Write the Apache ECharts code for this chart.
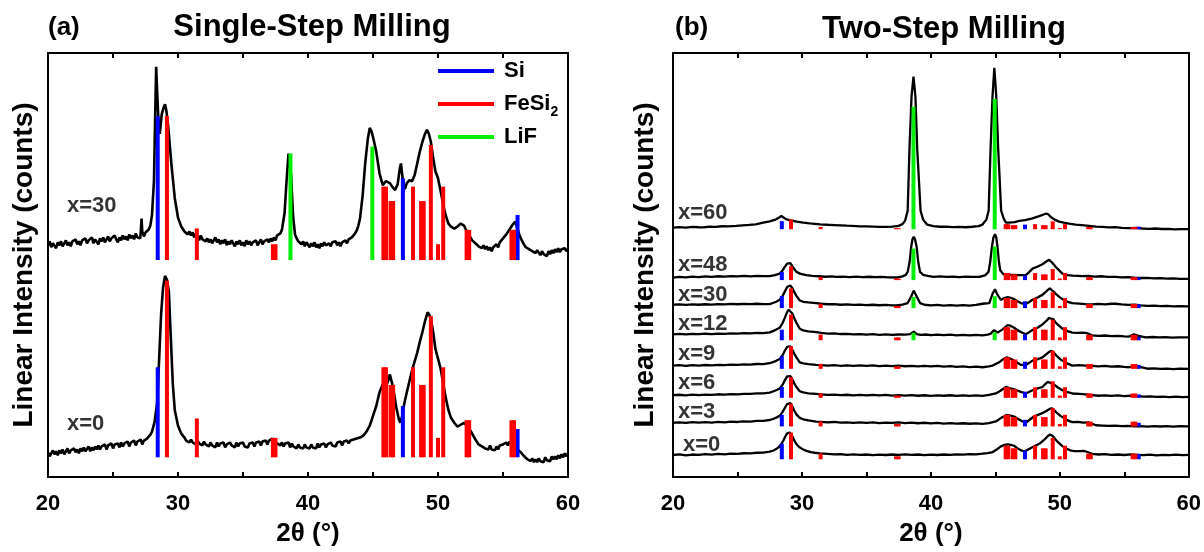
<!DOCTYPE html>
<html><head><meta charset="utf-8">
<script src="https://cdn.jsdelivr.net/npm/echarts@6/dist/echarts.min.js"></script>
<style>html,body{margin:0;padding:0;background:#fff}#c{width:1204px;height:552px}</style>
</head><body><div id="c"></div>
<script>
// ---------------- DATA ----------------
const xTicks = [20, 30, 40, 50, 60];
const phaseNames = ['Si', 'FeSi2', 'LiF'];
// reference stick positions (2θ) and relative intensities
const siPos = [28.44, 47.3, 56.12];
const siRel = [51, 29, 16];
const fesi2Pos = [29.15, 31.45, 37.3, 37.5, 45.8, 46.0, 46.35, 46.55, 48.08, 48.7, 48.9, 49.45, 50.0, 50.4, 52.2, 52.4, 55.65, 55.85];
const fesi2Rel = [100, 22, 11, 11, 51, 51, 41, 41, 51, 41, 41, 80, 11, 51, 21, 21, 21, 21];
const lifPos = [38.65, 44.95];
const lifRel = [94, 100];

// Panel (a): single-step milling
const aSamples = ['x=30', 'x=0'];
const aStickBase = [220, 20];
const aFeScale = [146, 179];
const aSiScale = [286, 179];
const aLiFScale = [115, 0];
const aX30Curve = [[20,235],[20.125,239],[20.25,233],[20.375,237],[20.5,236],[20.625,232],[20.75,238],[20.875,235],[21,239],[21.125,234],[21.25,237],[21.375,240],[21.5,235],[21.625,238],[21.75,234],[21.875,239],[22,237],[22.125,241],[22.25,236],[22.375,239],[22.5,235],[22.625,240],[22.75,238],[22.875,242],[23,237],[23.125,240],[23.25,238],[23.375,243],[23.5,237],[23.625,241],[23.75,239],[23.875,236],[24,242],[24.125,239],[24.25,243],[24.375,238],[24.5,241],[24.625,244],[24.75,239],[24.875,242],[25,240],[25.125,245],[25.25,241],[25.375,238],[25.5,243],[25.625,240],[25.75,245],[25.875,241],[26,244],[26.125,240],[26.25,246],[26.375,242],[26.5,245],[26.625,241],[26.75,247],[26.875,243],[27,245],[27.1,242],[27.2,262],[27.25,249],[27.375,244],[27.5,248],[27.625,246],[27.75,251],[27.875,255],[28,266],[28.15,300],[28.25,370],[28.32,416],[28.4,390],[28.5,360],[28.6,348],[28.75,368],[28.9,375],[29,378],[29.1,372],[29.25,355],[29.5,316],[29.75,283],[30,263],[30.25,254],[30.5,249],[30.625,251],[30.75,246],[30.875,249],[31,245],[31.125,248],[31.25,243],[31.375,247],[31.5,244],[31.625,240],[31.75,245],[31.875,241],[32,243],[32.125,239],[32.25,242],[32.375,238],[32.5,241],[32.625,237],[32.75,240],[32.875,243],[33,238],[33.125,241],[33.25,236],[33.375,240],[33.5,237],[33.625,241],[33.75,235],[33.875,239],[34,236],[34.125,240],[34.25,237],[34.375,234],[34.5,239],[34.625,236],[34.75,240],[34.875,235],[35,238],[35.125,234],[35.25,240],[35.375,236],[35.5,239],[35.625,235],[35.75,238],[35.875,236],[36,240],[36.125,235],[36.25,238],[36.375,241],[36.5,236],[36.625,239],[36.75,237],[36.875,241],[37,238],[37.125,242],[37.25,239],[37.375,243],[37.5,240],[37.625,245],[37.75,243],[37.875,247],[38,251],[38.2,268],[38.35,300],[38.5,328],[38.6,330],[38.7,306],[38.85,265],[39,246],[39.125,242],[39.25,239],[39.375,241],[39.5,236],[39.625,239],[39.75,234],[39.875,238],[40,236],[40.125,233],[40.25,237],[40.375,234],[40.5,238],[40.625,233],[40.75,236],[40.875,232],[41,237],[41.125,234],[41.25,238],[41.375,235],[41.5,233],[41.625,237],[41.75,234],[41.875,238],[42,236],[42.125,239],[42.25,235],[42.375,238],[42.5,234],[42.625,238],[42.75,236],[42.875,240],[43,237],[43.125,241],[43.25,239],[43.375,243],[43.5,245],[43.625,247],[43.75,250],[43.875,255],[44,262],[44.2,285],[44.4,318],[44.6,343],[44.75,354],[44.9,350],[45.05,342],[45.25,330],[45.5,308],[45.75,296],[45.9,294],[46,300],[46.15,302],[46.3,298],[46.5,294],[46.7,291],[46.9,297],[47.05,312],[47.15,318],[47.3,300],[47.45,292],[47.6,298],[47.8,301],[48,300],[48.2,306],[48.4,318],[48.6,330],[48.8,340],[49,348],[49.15,352],[49.3,348],[49.45,340],[49.6,326],[49.8,310],[50,303],[50.2,290],[50.4,276],[50.6,265],[50.8,257],[51,254],[51.25,252],[51.5,254],[51.75,257],[52,255],[52.25,248],[52.5,243],[52.625,240],[52.75,241],[52.875,237],[53,238],[53.125,234],[53.25,236],[53.375,232],[53.5,235],[53.625,231],[53.75,234],[53.875,230],[54,233],[54.125,229],[54.25,233],[54.375,231],[54.5,236],[54.625,233],[54.75,238],[54.875,236],[55,242],[55.25,246],[55.5,251],[55.75,256],[55.95,259],[56.1,252],[56.3,244],[56.45,240],[56.6,236],[56.75,233],[56.875,235],[57,231],[57.125,233],[57.25,229],[57.375,231],[57.5,227],[57.625,230],[57.75,228],[57.875,225],[58,229],[58.125,226],[58.25,228],[58.375,224],[58.5,229],[58.625,226],[58.75,230],[58.875,227],[59,231],[59.125,228],[59.25,232],[59.375,228],[59.5,231],[59.625,229],[59.75,232],[59.875,229],[60,231]];
const aX0Curve = [[20,25],[20.125,21],[20.25,24],[20.375,27],[20.5,23],[20.625,26],[20.75,22],[20.875,27],[21,24],[21.125,28],[21.25,23],[21.375,26],[21.5,29],[21.625,24],[21.75,27],[21.875,25],[22,29],[22.125,25],[22.25,28],[22.375,24],[22.5,29],[22.625,26],[22.75,30],[22.875,26],[23,28],[23.125,31],[23.25,26],[23.375,30],[23.5,27],[23.625,31],[23.75,28],[23.875,32],[24,28],[24.125,31],[24.25,29],[24.375,33],[24.5,28],[24.625,32],[24.75,30],[24.875,34],[25,29],[25.125,33],[25.25,31],[25.375,34],[25.5,30],[25.625,35],[25.75,31],[25.875,34],[26,32],[26.125,36],[26.25,31],[26.375,35],[26.5,33],[26.625,37],[26.75,32],[26.875,36],[27,34],[27.125,38],[27.25,33],[27.375,37],[27.5,36],[27.625,39],[27.75,40],[27.875,43],[28,46],[28.2,56],[28.4,76],[28.55,120],[28.7,165],[28.85,192],[29,204],[29.15,200],[29.3,188],[29.45,140],[29.6,95],[29.75,68],[30,52],[30.25,44],[30.5,40],[30.625,37],[30.75,39],[30.875,35],[31,38],[31.125,35],[31.25,37],[31.375,33],[31.5,37],[31.625,34],[31.75,36],[31.875,32],[32,36],[32.125,33],[32.25,35],[32.375,31],[32.5,35],[32.625,32],[32.75,34],[32.875,30],[33,35],[33.125,31],[33.25,34],[33.375,32],[33.5,35],[33.625,30],[33.75,33],[33.875,31],[34,35],[34.125,32],[34.25,34],[34.375,30],[34.5,35],[34.625,31],[34.75,34],[34.875,32],[35,35],[35.125,31],[35.25,33],[35.375,30],[35.5,34],[35.625,32],[35.75,35],[35.875,31],[36,35],[36.125,33],[36.25,36],[36.375,32],[36.5,36],[36.625,34],[36.75,37],[36.875,33],[37,37],[37.125,35],[37.25,39],[37.375,36],[37.5,38],[37.625,34],[37.75,36],[37.875,32],[38,35],[38.125,31],[38.25,34],[38.375,32],[38.5,35],[38.625,30],[38.75,34],[38.875,31],[39,33],[39.125,29],[39.25,33],[39.375,30],[39.5,32],[39.625,29],[39.75,33],[39.875,30],[40,32],[40.125,29],[40.25,33],[40.375,30],[40.5,32],[40.625,29],[40.75,34],[40.875,30],[41,33],[41.125,31],[41.25,34],[41.375,30],[41.5,33],[41.625,31],[41.75,35],[41.875,32],[42,34],[42.125,31],[42.25,35],[42.375,33],[42.5,36],[42.625,32],[42.75,36],[42.875,34],[43,37],[43.125,34],[43.25,37],[43.375,35],[43.5,38],[43.625,36],[43.75,39],[43.875,37],[44,40],[44.25,42],[44.5,46],[44.75,52],[45,62],[45.25,72],[45.5,86],[45.75,94],[46,92],[46.15,97],[46.3,104],[46.45,96],[46.6,86],[46.8,70],[47,58],[47.1,55],[47.25,62],[47.4,74],[47.6,86],[47.8,97],[48,108],[48.2,117],[48.4,126],[48.6,137],[48.8,147],[49,158],[49.2,167],[49.35,164],[49.5,157],[49.65,145],[49.8,130],[50,120],[50.2,110],[50.4,95],[50.6,80],[50.8,68],[51,60],[51.25,55],[51.5,51],[51.75,53],[52,55],[52.25,52],[52.5,47],[52.75,41],[52.875,38],[53,37],[53.125,33],[53.25,35],[53.375,31],[53.5,33],[53.625,29],[53.75,31],[53.875,28],[54,32],[54.125,28],[54.25,30],[54.375,27],[54.5,31],[54.625,28],[54.75,32],[54.875,30],[55,33],[55.125,31],[55.25,35],[55.375,32],[55.5,36],[55.625,33],[55.75,35],[55.875,31],[56,33],[56.125,28],[56.25,29],[56.375,25],[56.5,25],[56.625,21],[56.75,22],[56.875,18],[57,20],[57.125,16],[57.25,19],[57.375,15],[57.5,18],[57.625,15],[57.75,19],[57.875,16],[58,18],[58.125,15],[58.25,20],[58.375,17],[58.5,19],[58.625,16],[58.75,21],[58.875,18],[59,21],[59.125,18],[59.25,22],[59.375,19],[59.5,23],[59.625,20],[59.75,24],[59.875,21],[60,24]];
const aCurves = [aX30Curve, aX0Curve];

// Panel (b): two-step milling (curves = height above each pattern's own baseline)
const bSamples = ['x=60', 'x=48', 'x=30', 'x=12', 'x=9', 'x=6', 'x=3', 'x=0'];
const bOffsets = [253, 203, 174.7, 144.7, 113, 83, 55, 22.3];
const bStickBase = [251.3, 199.7, 171.3, 138.7, 109.7, 80.3, 51.3, 18];
const bFeScale = [10, 14, 20, 26, 23, 21, 23, 27];
const bSiScale = [16, 16, 24, 21, 25, 21.5, 23, 31];
const bLiFScale = [132, 34, 12, 8, 0, 0, 0, 0];
const bX60 = [[20,0],[20.5,0.5],[21,0],[21.5,0.6],[22,0.3],[22.3,0.2],[22.8,0.8],[23.3,0.6],[23.8,1.3],[24.3,1.2],[24.9,1.7],[25.4,2.2],[25.9,2.7],[26.4,3.3],[27,5],[27.5,6.3],[28,8.3],[28.2,9.8],[28.4,11.7],[28.6,10],[28.8,8.3],[29.2,7],[29.6,6],[30.1,5],[30.6,4.2],[31,3.8],[31.4,3.3],[32,2.8],[32.5,2.5],[33,2.2],[33.5,1.9],[33.9,1.7],[34.5,1.2],[35,1.1],[35.5,0.9],[36,0.6],[36.5,0.7],[37,0.9],[37.5,1.7],[37.8,3.5],[38,7],[38.2,17],[38.34,80],[38.5,133],[38.65,153],[38.8,133],[38.94,80],[39.2,17],[39.4,8],[39.7,3],[40.2,1.5],[40.7,0.8],[41.2,1],[41.7,0.4],[42.2,0.7],[42.7,0.3],[43.2,0.8],[43.7,1.5],[44,3],[44.3,8],[44.48,17],[44.63,80],[44.78,133],[44.92,162],[45.07,133],[45.22,80],[45.45,17],[45.65,9],[45.82,5],[46.05,5],[46.5,5.5],[46.85,6.7],[47.3,7.5],[47.88,9.3],[48.4,11.5],[48.9,14],[49.1,13.5],[49.3,10.7],[49.6,8],[49.94,6],[50.3,5],[50.72,4],[51.2,3],[51.7,2.4],[52.26,1.7],[52.8,1],[53.3,0.7],[53.8,0.2],[54.3,0.4],[54.8,-0.3],[55.36,-0.7],[55.9,-0.4],[56.4,-1],[56.9,-1.3],[57.4,-1],[57.9,-1.5],[58.4,-1.3],[58.9,-1.8],[59.4,-1.6],[60,-1.7]];
const bX48 = [[20,-0.7],[20.5,0],[21,-0.5],[21.5,0.2],[22,-0.3],[22.5,0.4],[23,0],[23.5,0.6],[24,0.2],[24.5,0.7],[25,0.4],[25.5,0.9],[26,0.5],[26.5,1],[27,0.8],[27.5,0.7],[27.9,1.8],[28.28,3.3],[28.5,6.5],[28.67,10],[28.85,13.5],[28.97,15],[29.1,14],[29.26,10.7],[29.4,8],[29.57,5],[29.9,3],[30.34,1.7],[30.8,1],[31.3,0.6],[31.8,0.1],[32.3,0.4],[32.66,0],[33.2,0.3],[33.7,-0.2],[34.2,0.2],[34.7,-0.3],[35.2,0.1],[35.7,-0.4],[36.2,0],[36.7,-0.5],[37.3,-0.7],[37.8,0.5],[38.05,2],[38.2,5],[38.35,15],[38.47,30],[38.57,38],[38.67,40.7],[38.77,38],[38.9,30],[39.02,15],[39.16,5],[39.4,2],[39.75,1],[40.2,0],[40.7,0.4],[41.2,-0.1],[41.7,0.3],[42.2,-0.2],[42.7,0.2],[43.2,-0.1],[43.75,0],[44.2,1.5],[44.47,5],[44.6,15],[44.73,30],[44.85,40],[44.97,43.3],[45.07,40],[45.17,30],[45.28,15],[45.38,6.7],[45.6,3],[45.82,1.7],[46.3,2],[46.85,1.7],[47.36,1.7],[47.6,4.5],[47.88,8.3],[48.3,10.5],[48.65,12.7],[48.95,15.5],[49.17,17.3],[49.4,14.5],[49.69,10],[49.95,6.5],[50.2,3.3],[50.6,1.8],[51,1.3],[51.4,1],[51.75,0.7],[52.2,1],[52.7,0.3],[53.2,0.6],[53.7,-0.1],[54.3,0],[54.8,-0.6],[55.3,-0.3],[55.8,-0.9],[56.3,-1.2],[56.8,-1],[57.3,-1.6],[57.8,-1.3],[58.3,-1.8],[58.8,-1.5],[59.3,-2],[60,-2]];
const bX30 = [[20,0],[20.5,0.4],[21,-0.2],[21.5,0.4],[22,0],[22.5,0.5],[23,0.1],[23.5,0.6],[24,0.3],[24.5,0.8],[25,0.5],[25.5,0.9],[26,0.6],[26.5,1],[27,0.7],[27.5,0.7],[27.8,2],[28,3],[28.28,5],[28.5,9],[28.67,13.3],[28.85,18],[28.97,20],[29.1,19.5],[29.26,16.7],[29.4,13],[29.57,9],[29.83,4.3],[30.1,3],[30.5,2.3],[31.1,1.7],[31.5,1],[32,0.5],[32.5,0.6],[33,0],[33.5,0.3],[34,-0.2],[34.5,0.2],[35,-0.4],[35.5,0],[36,-0.5],[36.5,-0.1],[37,-0.6],[37.3,-0.7],[37.8,0.2],[38.2,1.7],[38.47,8.3],[38.67,14.3],[38.9,8.3],[39.16,1.7],[39.5,0],[40,-0.7],[40.5,-0.2],[41,-0.8],[41.5,-0.3],[42,-0.9],[42.5,-0.4],[43,-0.8],[43.5,-0.2],[44,1],[44.53,1.7],[44.78,11],[44.97,15.7],[45.17,10],[45.43,5],[45.7,6.8],[45.95,7.7],[46.2,7],[46.46,5.7],[46.75,3.3],[46.98,1.7],[47.36,0.7],[47.6,2.5],[47.88,5],[48.3,7.5],[48.65,10],[48.95,13.5],[49.22,16.7],[49.45,14],[49.69,11],[49.95,8],[50.2,5.7],[50.6,3],[50.97,1.7],[51.5,1.2],[52,0.7],[52.5,0.3],[53,0.8],[53.5,0.4],[54,1],[54.3,1],[54.8,0.3],[55.3,-0.2],[55.8,0.2],[56.3,-0.6],[56.8,-1.2],[57.3,-0.9],[57.8,-1.5],[58.3,-1.2],[58.8,-1.7],[59.3,-1.4],[60,-1.7]];
const bX12 = [[20,0],[20.5,0.5],[21,-0.1],[21.5,0.5],[22,0.1],[22.5,0.6],[23,0.2],[23.5,0.8],[24,0.4],[24.5,1],[25,0.7],[25.5,1.2],[26,1],[26.5,1.5],[27,1.3],[27.5,2],[27.8,3.5],[28,4.8],[28.28,6.7],[28.5,11.5],[28.67,16.7],[28.85,22.5],[28.97,25],[29.1,24.2],[29.26,21],[29.4,16.5],[29.57,11.7],[29.83,5.7],[30.1,4],[30.5,3],[31.1,2.3],[31.5,1.5],[32,0.8],[32.5,0.9],[33,0.3],[33.5,0.5],[34,-0.1],[34.5,0.3],[35,-0.3],[35.5,0.1],[36,-0.5],[36.5,-0.1],[37,-0.6],[37.5,-0.2],[38,-0.4],[38.4,0.3],[38.67,2.7],[38.9,0.2],[39.2,-0.6],[39.6,-0.2],[40,-0.8],[40.5,-0.3],[41,-0.9],[41.5,-0.4],[42,-1],[42.5,-0.5],[43,-1.1],[43.5,-0.6],[44,-1],[44.4,-0.3],[44.65,0.7],[44.9,4.3],[45.17,1.7],[45.56,5],[45.95,9.3],[46.2,8.5],[46.46,6.7],[46.75,4],[46.98,2.3],[47.36,0],[47.6,2],[47.88,4.3],[48.3,7],[48.65,10],[48.95,13.5],[49.15,16.5],[49.3,18.3],[49.5,15.5],[49.69,11.7],[49.95,8.5],[50.2,5.7],[50.6,3.3],[50.97,1.7],[51.4,1.5],[51.8,1.8],[52.1,1.2],[52.5,-1],[53,-1.5],[53.5,-1.2],[54,-1.8],[54.5,-1.5],[55,-2],[55.36,-2.3],[55.74,0],[56.1,-1.5],[56.65,-3],[57.2,-2.7],[57.7,-3.2],[58.2,-2.9],[58.7,-3.4],[59.2,-3],[60,-3.2]];
const bX9 = [[20,0],[20.5,0.5],[21,-0.2],[21.5,0.4],[22,0],[22.5,0.6],[23,0.1],[23.5,0.8],[24,0.4],[24.5,1],[25,0.7],[25.5,1.3],[26,1],[26.5,1.6],[27,1.5],[27.5,2.4],[27.8,3.8],[28,4.8],[28.28,6.7],[28.5,10.5],[28.67,15],[28.85,19],[28.97,20],[29.1,19.4],[29.26,16],[29.4,12.2],[29.57,8.3],[29.83,3.3],[30.1,2.3],[30.5,1.5],[31.1,0.7],[31.5,0.4],[32,-0.1],[32.5,0.4],[33,-0.2],[33.5,0.3],[34,-0.3],[34.5,0.2],[35,-0.4],[35.5,0.1],[36,-0.5],[36.5,0],[37,-0.6],[37.5,-0.1],[38,-0.7],[38.5,-0.2],[39,-0.8],[39.5,-0.3],[40,-0.9],[40.5,-0.4],[41,-1.1],[41.5,-0.6],[42,-1.3],[42.5,-0.9],[43,-1.5],[43.5,-1.1],[44,-1.7],[44.5,-0.8],[44.78,0],[45.3,3.3],[45.6,6.5],[45.87,8.3],[46.1,7.3],[46.46,5],[46.75,2.5],[46.98,0.7],[47.36,0.7],[47.6,2.5],[47.88,5],[48.3,6.5],[48.65,8.3],[49,12],[49.2,14.2],[49.37,15],[49.55,13],[49.8,9.3],[50.05,6.3],[50.33,4],[50.6,2],[50.97,0],[51.5,0.4],[52,0],[52.5,-0.2],[53,-0.8],[53.5,-0.4],[54,-1.1],[54.5,-0.7],[55,-1.4],[55.36,-1.7],[55.9,0],[56.3,-1.5],[56.8,-3.2],[57.3,-2.8],[57.8,-3.4],[58.3,-3],[58.8,-3.5],[59.3,-3.1],[60,-3.4]];
const bX6 = [[20,0],[20.5,0.4],[21,-0.2],[21.5,0.5],[22,0.1],[22.5,0.6],[23,0.2],[23.5,0.9],[24,0.5],[24.5,1.1],[25,0.8],[25.5,1.4],[26,1.2],[26.5,1.8],[27,1.9],[27.5,2.6],[27.8,4],[28,5],[28.28,6.7],[28.5,10.5],[28.67,15],[28.85,19],[28.97,20],[29.1,19.3],[29.26,16],[29.4,12],[29.57,8.3],[29.83,4],[30.1,2.8],[30.5,1.9],[31.1,1.3],[31.5,0.7],[32,0.2],[32.5,0.6],[33,0],[33.5,0.4],[34,-0.2],[34.5,0.3],[35,-0.3],[35.5,0.2],[36,-0.3],[36.5,0.2],[37,-0.4],[37.5,0.1],[38,-0.5],[38.5,0],[39,-0.6],[39.5,-0.1],[40,-0.7],[40.5,-0.2],[41,-0.6],[41.5,-0.1],[42,-0.8],[42.5,-0.2],[43,-0.7],[43.5,-0.2],[44,-0.7],[44.5,0.3],[45.04,1.7],[45.4,4.5],[45.82,8.3],[46.1,7.2],[46.46,6],[46.75,4.5],[46.98,3.3],[47.36,1.7],[47.6,3.2],[47.88,5],[48.3,6.8],[48.65,8.3],[48.85,11],[49.04,13.3],[49.25,12.6],[49.56,10.7],[49.85,7.8],[50.2,5],[50.6,3],[50.97,1.7],[51.5,1.2],[52,0.7],[52.5,0.1],[53,-0.6],[53.5,-0.2],[54,-0.8],[54.5,-0.3],[55,-0.9],[55.5,-0.4],[56,-1],[56.5,-1.5],[57,-1.2],[57.5,-1.8],[58,-1.4],[58.5,-1.9],[59,-1.5],[59.5,-2],[60,-1.7]];
const bX3 = [[20,0],[20.5,0.5],[21,-0.2],[21.5,0.6],[22,0.1],[22.5,0.7],[23,0.2],[23.5,1],[24,0.5],[24.5,1.2],[25,0.8],[25.5,1.5],[26,1.2],[26.5,2],[27,2],[27.5,2.8],[27.8,4],[28,5.2],[28.28,7],[28.5,11],[28.67,15],[28.85,19],[28.97,20.7],[29.1,20],[29.26,16.5],[29.4,12.5],[29.57,8.5],[29.83,5],[30.1,3.5],[30.5,2.5],[31.1,1.2],[31.5,0.9],[32,0.4],[32.5,0.8],[33,0.1],[33.5,0.5],[34,-0.1],[34.5,0.4],[35,-0.2],[35.5,0.3],[36,-0.3],[36.5,0.2],[37,-0.2],[37.5,0.3],[38,-0.3],[38.5,0.1],[39,-0.5],[39.5,0],[40,-0.6],[40.5,-0.2],[41,-0.8],[41.5,-0.3],[42,-0.9],[42.5,-0.5],[43,-1],[43.5,-0.6],[44,-1.2],[44.5,-0.4],[45.04,1.3],[45.4,4.5],[45.87,8],[46.1,7.6],[46.46,6.3],[46.8,3.5],[47.11,1.3],[47.36,0],[47.6,2.5],[48,6.3],[48.3,8],[48.65,9.7],[48.95,12],[49.2,14],[49.37,14.7],[49.55,13],[49.8,9.7],[50.05,7],[50.33,4.7],[50.6,2.5],[50.97,0.7],[51.4,0.8],[51.8,0.2],[52.2,0.5],[52.8,-2.5],[53.3,-2.8],[53.8,-3.2],[54.3,-2.9],[54.8,-3.5],[55.3,-3.2],[55.8,-3.6],[56.3,-3.3],[56.8,-3.9],[57.3,-3.5],[57.8,-3.8],[58.3,-3.4],[58.8,-3.9],[59.3,-3.5],[60,-3.7]];
const bX0 = [[20,0],[20.5,0.6],[21,-0.3],[21.5,0.5],[22,0.2],[22.5,0.8],[23,0.3],[23.5,1.1],[24,0.7],[24.5,1.4],[25,1.1],[25.5,1.8],[26,1.6],[26.5,2.3],[27,2.5],[27.5,3.4],[27.8,4.6],[28,6],[28.2,8],[28.4,11],[28.55,14.5],[28.7,18.5],[28.85,22],[28.95,23.2],[29.05,22.8],[29.2,20.5],[29.35,16.5],[29.5,12.5],[29.65,9.8],[29.85,7.5],[30.1,5.6],[30.35,4.2],[30.7,3],[31,2.3],[31.4,1.6],[32,1.2],[32.5,0.6],[33,0.9],[33.5,0.2],[34,0.6],[34.5,0.1],[35,0.5],[35.5,-0.1],[36,0.4],[36.5,0],[37,0.5],[37.5,0.1],[38,0.6],[38.5,0.2],[39,0.5],[39.5,-0.1],[40,0.4],[40.5,0],[41,0.5],[41.5,0.1],[42,0.6],[42.5,0.3],[43,0.8],[43.5,0.6],[44,1.3],[44.4,2],[44.8,3],[45.1,5.5],[45.4,8.5],[45.7,10.3],[45.95,10.8],[46.2,10.3],[46.45,9.4],[46.7,7],[46.95,5],[47.2,3.8],[47.4,4.5],[47.65,6.4],[47.9,8.2],[48.2,10],[48.5,12.2],[48.8,15.5],[49.05,19],[49.25,20.8],[49.45,19.3],[49.65,16],[49.9,12.5],[50.2,9],[50.5,6.5],[50.8,4.8],[51.1,4],[51.5,3.9],[51.9,4.1],[52.2,2.8],[52.5,1.2],[53,0.5],[53.5,0.8],[54,0.1],[54.5,0.5],[55,0],[55.5,0.6],[56,0.2],[56.5,-0.2],[57,0.3],[57.5,-0.3],[58,0.2],[58.5,-0.2],[59,0.3],[59.5,-0.1],[60,0.2]];
const bCurves = [bX60, bX48, bX30, bX12, bX9, bX6, bX3, bX0];

// ---------------- LAYOUT / STYLE ----------------
const FONT = '"Liberation Sans", Arial, Helvetica, sans-serif';
const colors = { Si: '#0000ff', FeSi2: '#ff0000', LiF: '#00ee00' };
const aLabelAt = [[21.46, 275], [21.46, 54]];
const bLabelX = [20.39, 20.39, 20.39, 20.39, 20.39, 20.39, 20.39, 20.77];
const bLabelY = [268, 215, 185, 155, 125, 95, 66, 33];

function buildSticks(pos, rel, bases, scales) {
  const out = [];
  bases.forEach((b, i) => {
    if (!scales[i]) return;
    pos.forEach((p, j) => out.push([p, b, b + rel[j] / 100 * scales[i]]));
  });
  return out;
}
function stickRender(params, api) {
  const x = api.value(0);
  const lo = api.coord([x, api.value(1)]);
  const hi = api.coord([x, api.value(2)]);
  return { type: 'rect', shape: { x: lo[0] - 2, y: hi[1], width: 4, height: Math.max(1, lo[1] - hi[1]) },
           style: { fill: api.visual('color') } };
}
const boldText = (size) => ({ fontFamily: FONT, fontWeight: 'bold', fontSize: size, color: '#000' });

function xAxes(g) {
  const common = { type: 'value', gridIndex: g, min: 20, max: 60, interval: 5,
    splitLine: { show: false },
    axisLine: { show: true, onZero: false, lineStyle: { color: '#000', width: 2 } },
    axisTick: { show: true, inside: true, length: 5, lineStyle: { color: '#000', width: 2 } } };
  return [
    Object.assign({}, common, { position: 'bottom',
      axisLabel: Object.assign(boldText(22), { margin: 16, formatter: v => (xTicks.indexOf(v) >= 0 ? String(v) : '') }),
      name: '2θ (°)', nameLocation: 'middle', nameGap: 44, nameTextStyle: boldText(26) }),
    Object.assign({}, common, { position: 'top', axisLabel: { show: false } })
  ];
}
function yAxes(g, gap) {
  const common = { type: 'value', gridIndex: g, min: 0, max: 430, splitLine: { show: false },
    axisTick: { show: false }, axisLabel: { show: false },
    axisLine: { show: true, onZero: false, lineStyle: { color: '#000', width: 2 } } };
  return [
    Object.assign({}, common, { position: 'left', name: 'Linear Intensity (counts)', nameLocation: 'middle',
      nameGap: gap, nameTextStyle: boldText(28) }),
    Object.assign({}, common, { position: 'right' })
  ];
}

const series = [];
aCurves.forEach((c, i) => series.push({ type: 'line', name: 'a ' + aSamples[i], xAxisIndex: 0, yAxisIndex: 0,
  data: c, showSymbol: false, symbol: 'none', lineStyle: { color: '#000', width: 2.6 }, z: 2, silent: true }));
bCurves.forEach((c, i) => series.push({ type: 'line', name: 'b ' + bSamples[i], xAxisIndex: 2, yAxisIndex: 2,
  data: c.map(p => [p[0], p[1] + bOffsets[i]]), showSymbol: false, symbol: 'none',
  lineStyle: { color: '#000', width: 2.3 }, z: 2, silent: true }));
const stickDefs = [
  ['Si', siPos, siRel, aSiScale, bSiScale],
  ['FeSi2', fesi2Pos, fesi2Rel, aFeScale, bFeScale],
  ['LiF', lifPos, lifRel, aLiFScale, bLiFScale]
];
stickDefs.forEach(([name, pos, rel, aS, bS]) => {
  series.push({ type: 'custom', name, xAxisIndex: 0, yAxisIndex: 0, renderItem: stickRender,
    data: buildSticks(pos, rel, aStickBase, aS), encode: { x: 0, y: [1, 2] },
    itemStyle: { color: colors[name] }, z: 5, silent: true });
  series.push({ type: 'custom', name, xAxisIndex: 2, yAxisIndex: 2, renderItem: stickRender,
    data: buildSticks(pos, rel, bStickBase, bS), encode: { x: 0, y: [1, 2] },
    itemStyle: { color: colors[name] }, z: 5, silent: true });
});
const labelSeries = (xi, pts, names) => ({ type: 'scatter', xAxisIndex: xi, yAxisIndex: xi, symbolSize: 0, silent: true, z: 6,
  data: pts.map((p, i) => ({ value: p, label: { formatter: names[i] } })),
  label: Object.assign(boldText(22), { show: true, position: 'right', distance: 0 }) });
series.push(labelSeries(0, aLabelAt, aSamples));
series.push(labelSeries(2, bLabelX.map((x, i) => [x, bLabelY[i]]), bSamples));

const chart = echarts.init(document.getElementById('c'), null, { renderer: 'canvas' });
chart.setOption({
  animation: false,
  backgroundColor: '#fff',
  grid: [
    { left: 48, top: 53, width: 520, height: 430 },
    { left: 673, top: 53, width: 517, height: 430 }
  ],
  xAxis: xAxes(0).concat(xAxes(1)),
  yAxis: yAxes(0, 10).concat(yAxes(1, 14)),
  legend: {
    data: phaseNames.map(n => ({ name: n, icon: 'rect' })),
    left: 438, top: 56, orient: 'vertical', padding: 0,
    itemWidth: 56, itemHeight: 4, itemGap: 3, selectedMode: false,
    formatter: n => (n === 'FeSi2' ? 'FeSi{sub|2}' : n),
    textStyle: Object.assign(boldText(22), { lineHeight: 30, padding: [0, 0, 0, 5],
      rich: { sub: { fontFamily: FONT, fontWeight: 'bold', fontSize: 14, lineHeight: 14, verticalAlign: 'bottom', color: '#000' } } })
  },
  graphic: [
    { type: 'text', x: 48, y: 28, style: { text: '(a)', font: 'bold 26px ' + FONT, fill: '#000', textAlign: 'left', align: 'left', textVerticalAlign: 'middle', verticalAlign: 'middle' } },
    { type: 'text', x: 312, y: 27, style: { text: 'Single-Step Milling', font: 'bold 31px ' + FONT, fill: '#000', textAlign: 'center', align: 'center', textVerticalAlign: 'middle', verticalAlign: 'middle' } },
    { type: 'text', x: 675, y: 28, style: { text: '(b)', font: 'bold 26px ' + FONT, fill: '#000', textAlign: 'left', align: 'left', textVerticalAlign: 'middle', verticalAlign: 'middle' } },
    { type: 'text', x: 944, y: 29, style: { text: 'Two-Step Milling', font: 'bold 31px ' + FONT, fill: '#000', textAlign: 'center', align: 'center', textVerticalAlign: 'middle', verticalAlign: 'middle' } }
  ],
  series
});
</script>
</body></html>
